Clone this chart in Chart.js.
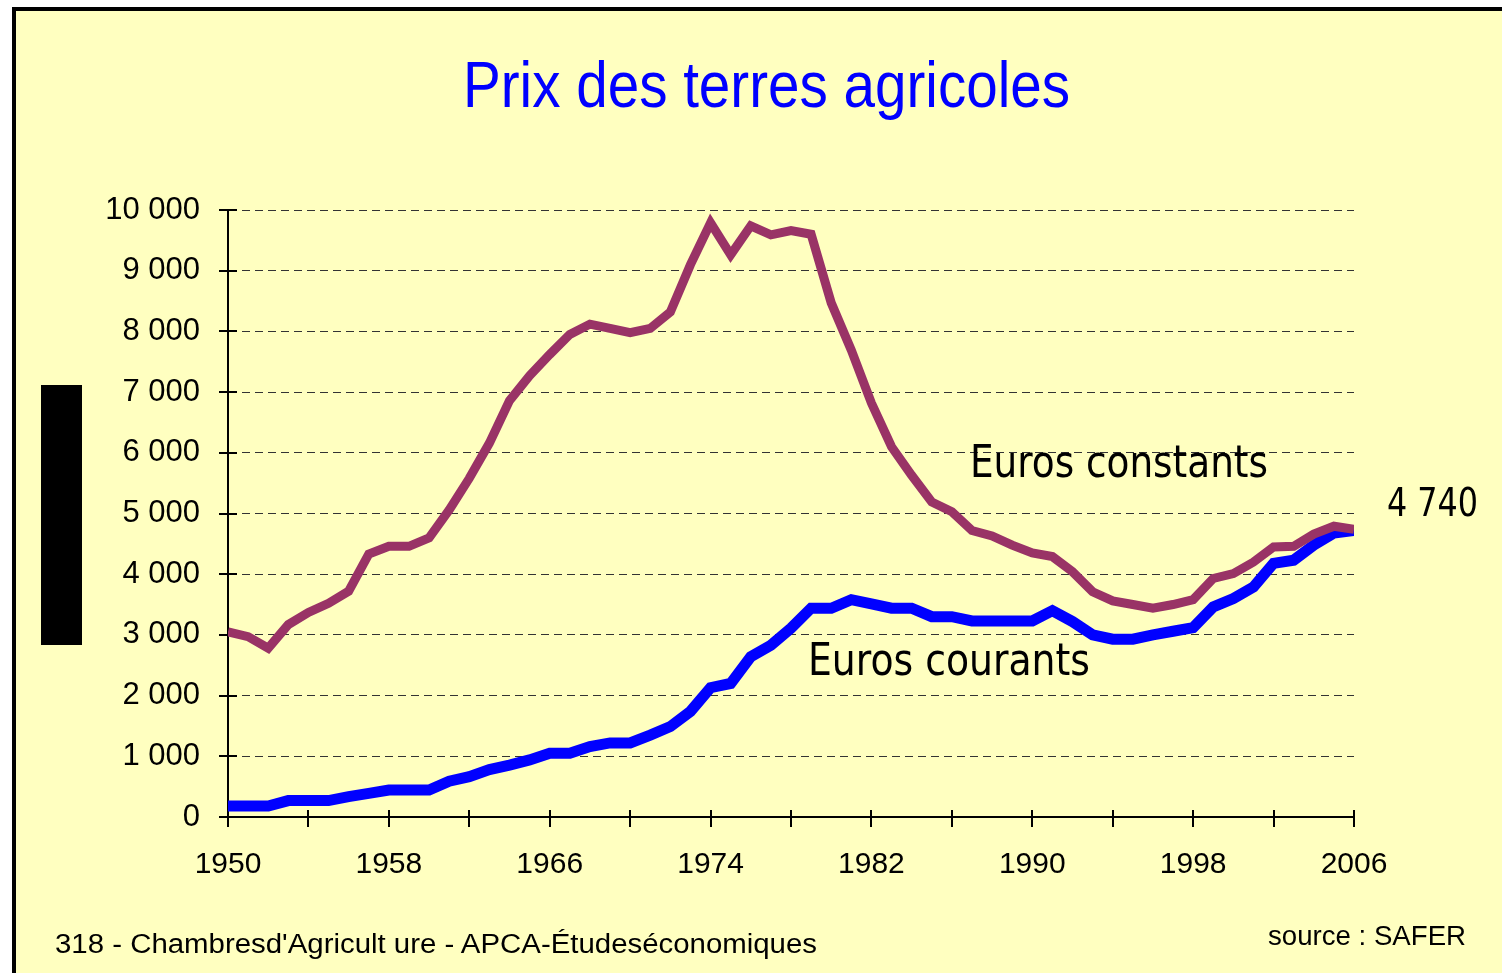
<!DOCTYPE html>
<html>
<head>
<meta charset="utf-8">
<script src="https://cdn.jsdelivr.net/npm/chart.js@4/dist/chart.umd.min.js"></script>
<style>
  html,body{margin:0;padding:0;background:#fff;}
  body{width:1502px;height:973px;position:relative;overflow:hidden;}
  #frame{position:absolute;left:12px;top:7px;width:1490px;height:966px;background:#FFFFC0;
         border-top:4px solid #000;border-left:4px solid #000;box-sizing:border-box;}
  #box{position:absolute;left:41px;top:385px;width:41px;height:260px;background:#000;}
  canvas{position:absolute;left:0;top:0;}
  .t{position:absolute;white-space:nowrap;line-height:1;transform-origin:0 0;}
  .narrow{font-family:"Liberation Sans Narrow","Arial Narrow","Liberation Sans",Arial,sans-serif;}
  .cond{font-family:"DejaVu Sans Condensed","DejaVu Sans",sans-serif;}
  .reg{font-family:"Liberation Sans",Arial,sans-serif;}
</style>
</head>
<body>
<div id="frame"></div>
<div id="box"></div>
<canvas id="c" width="1502" height="973"></canvas>
<div class="t narrow" data-w="607" style="left:463px;top:52px;font-size:65px;color:#0000FF;">Prix des terres agricoles</div>
<div class="t cond" data-w="298" style="left:970px;top:439px;font-size:45px;color:#000;">Euros constants</div>
<div class="t cond" data-w="282" style="left:808px;top:637px;font-size:45px;color:#000;">Euros courants</div>
<div class="t cond" data-w="91" style="left:1387px;top:483px;font-size:39px;color:#000;">4 740</div>
<div class="t reg" data-w="762" style="left:55px;top:931px;font-size:27px;color:#000;">318 - Chambresd'Agricult ure - APCA-Étudeséconomiques</div>
<div class="t reg" data-w="198" style="left:1268px;top:923px;font-size:27px;color:#000;">source : SAFER</div>
<script>
const years = [1950,1951,1952,1953,1954,1955,1956,1957,1958,1959,
  1960,1961,1962,1963,1964,1965,1966,1967,1968,1969,
  1970,1971,1972,1973,1974,1975,1976,1977,1978,1979,
  1980,1981,1982,1983,1984,1985,1986,1987,1988,1989,
  1990,1991,1992,1993,1994,1995,1996,1997,1998,1999,
  2000,2001,2002,2003,2004,2005,2006];
const eurosConstants = [3050,2970,2780,3170,3370,3520,3720,4330,4460,4460,
  4600,5060,5580,6160,6860,7270,7620,7950,8120,8050,
  7980,8050,8320,9100,9790,9260,9740,9590,9660,9600,
  8470,7690,6820,6100,5630,5190,5030,4720,4630,4480,
  4350,4290,4040,3710,3560,3500,3440,3500,3580,3930,
  4010,4200,4450,4460,4660,4790,4740];
const eurosCourants = [180,180,180,270,270,270,335,390,445,445,
  445,590,665,780,855,940,1050,1050,1160,1220,
  1220,1350,1490,1740,2130,2200,2640,2830,3110,3440,
  3440,3580,3510,3440,3440,3300,3300,3230,3230,3230,
  3230,3400,3220,3000,2930,2930,3000,3060,3120,3460,
  3600,3790,4180,4230,4480,4680,4720];
const xTickLabels = ["1950","1958","1966","1974","1982","1990","1998","2006"];
const yTickLabels = ["0","1 000","2 000","3 000","4 000","5 000","6 000","7 000","8 000","9 000","10 000"];

const toPts = arr => years.map((yr,i)=>({x:yr,y:arr[i]}));

const crossTicks = {
  id:'crossTicks',
  beforeDatasetsDraw(chart){
    const ctx=chart.ctx, xs=chart.scales.x, ys=chart.scales.y;
    ctx.save();
    ctx.strokeStyle='#000'; ctx.lineWidth=2; ctx.setLineDash([]);
    ys.ticks.forEach((t,i)=>{const py=Math.round(ys.getPixelForTick(i));
      ctx.beginPath();ctx.moveTo(xs.left-9,py);ctx.lineTo(xs.left+9,py);ctx.stroke();});
    xs.ticks.forEach((t,i)=>{const px=Math.round(xs.getPixelForTick(i));
      ctx.beginPath();ctx.moveTo(px,ys.bottom-7);ctx.lineTo(px,ys.bottom+10);ctx.stroke();});
    ctx.restore();
  }
};

new Chart(document.getElementById('c'),{
  type:'line',
  data:{datasets:[
    {label:'Euros constants',data:toPts(eurosConstants),borderColor:'#993366',borderWidth:9,
     pointRadius:0,tension:0,borderJoinStyle:'miter',borderCapStyle:'butt',fill:false},
    {label:'Euros courants',data:toPts(eurosCourants),borderColor:'#0000FF',borderWidth:11,
     pointRadius:0,tension:0,borderJoinStyle:'miter',borderCapStyle:'butt',fill:false}
  ]},
  options:{
    responsive:false,animation:false,
    layout:{padding:{left:0,top:210,right:148,bottom:0}},
    plugins:{legend:{display:false},tooltip:{enabled:false},title:{display:false}},
    scales:{
      x:{type:'linear',min:1950,max:2006,
        afterFit(s){s.height=156;},
        grid:{drawOnChartArea:false,drawTicks:false},
        border:{display:true,color:'#000',width:2},
        ticks:{stepSize:4,autoSkip:false,maxRotation:0,padding:30,color:'#000',
          font:{family:'"Liberation Sans", Arial, sans-serif',size:30},
          callback:(v)=>{const s=String(v);return xTickLabels.includes(s)?s:'';}}
      },
      y:{min:0,max:10000,
        afterFit(s){s.width=228;},
        grid:{color:'#333',lineWidth:1,drawTicks:false},
        border:{display:true,color:'#000',width:2,dash:[8,5]},
        ticks:{stepSize:1000,padding:28,color:'#000',
          font:{family:'"Liberation Sans", Arial, sans-serif',size:31},
          callback:(v)=>yTickLabels[Math.round(v/1000)]}
      }
    }
  },
  plugins:[crossTicks]
});

function fit(){
  document.querySelectorAll('.t').forEach(el=>{
    el.style.transform='none';
    const w=el.getBoundingClientRect().width;
    const target=parseFloat(el.dataset.w);
    if(w>0) el.style.transform='scaleX('+(target/w)+')';
  });
}
fit();
if(document.fonts&&document.fonts.ready) document.fonts.ready.then(fit);
</script>
</body>
</html>
